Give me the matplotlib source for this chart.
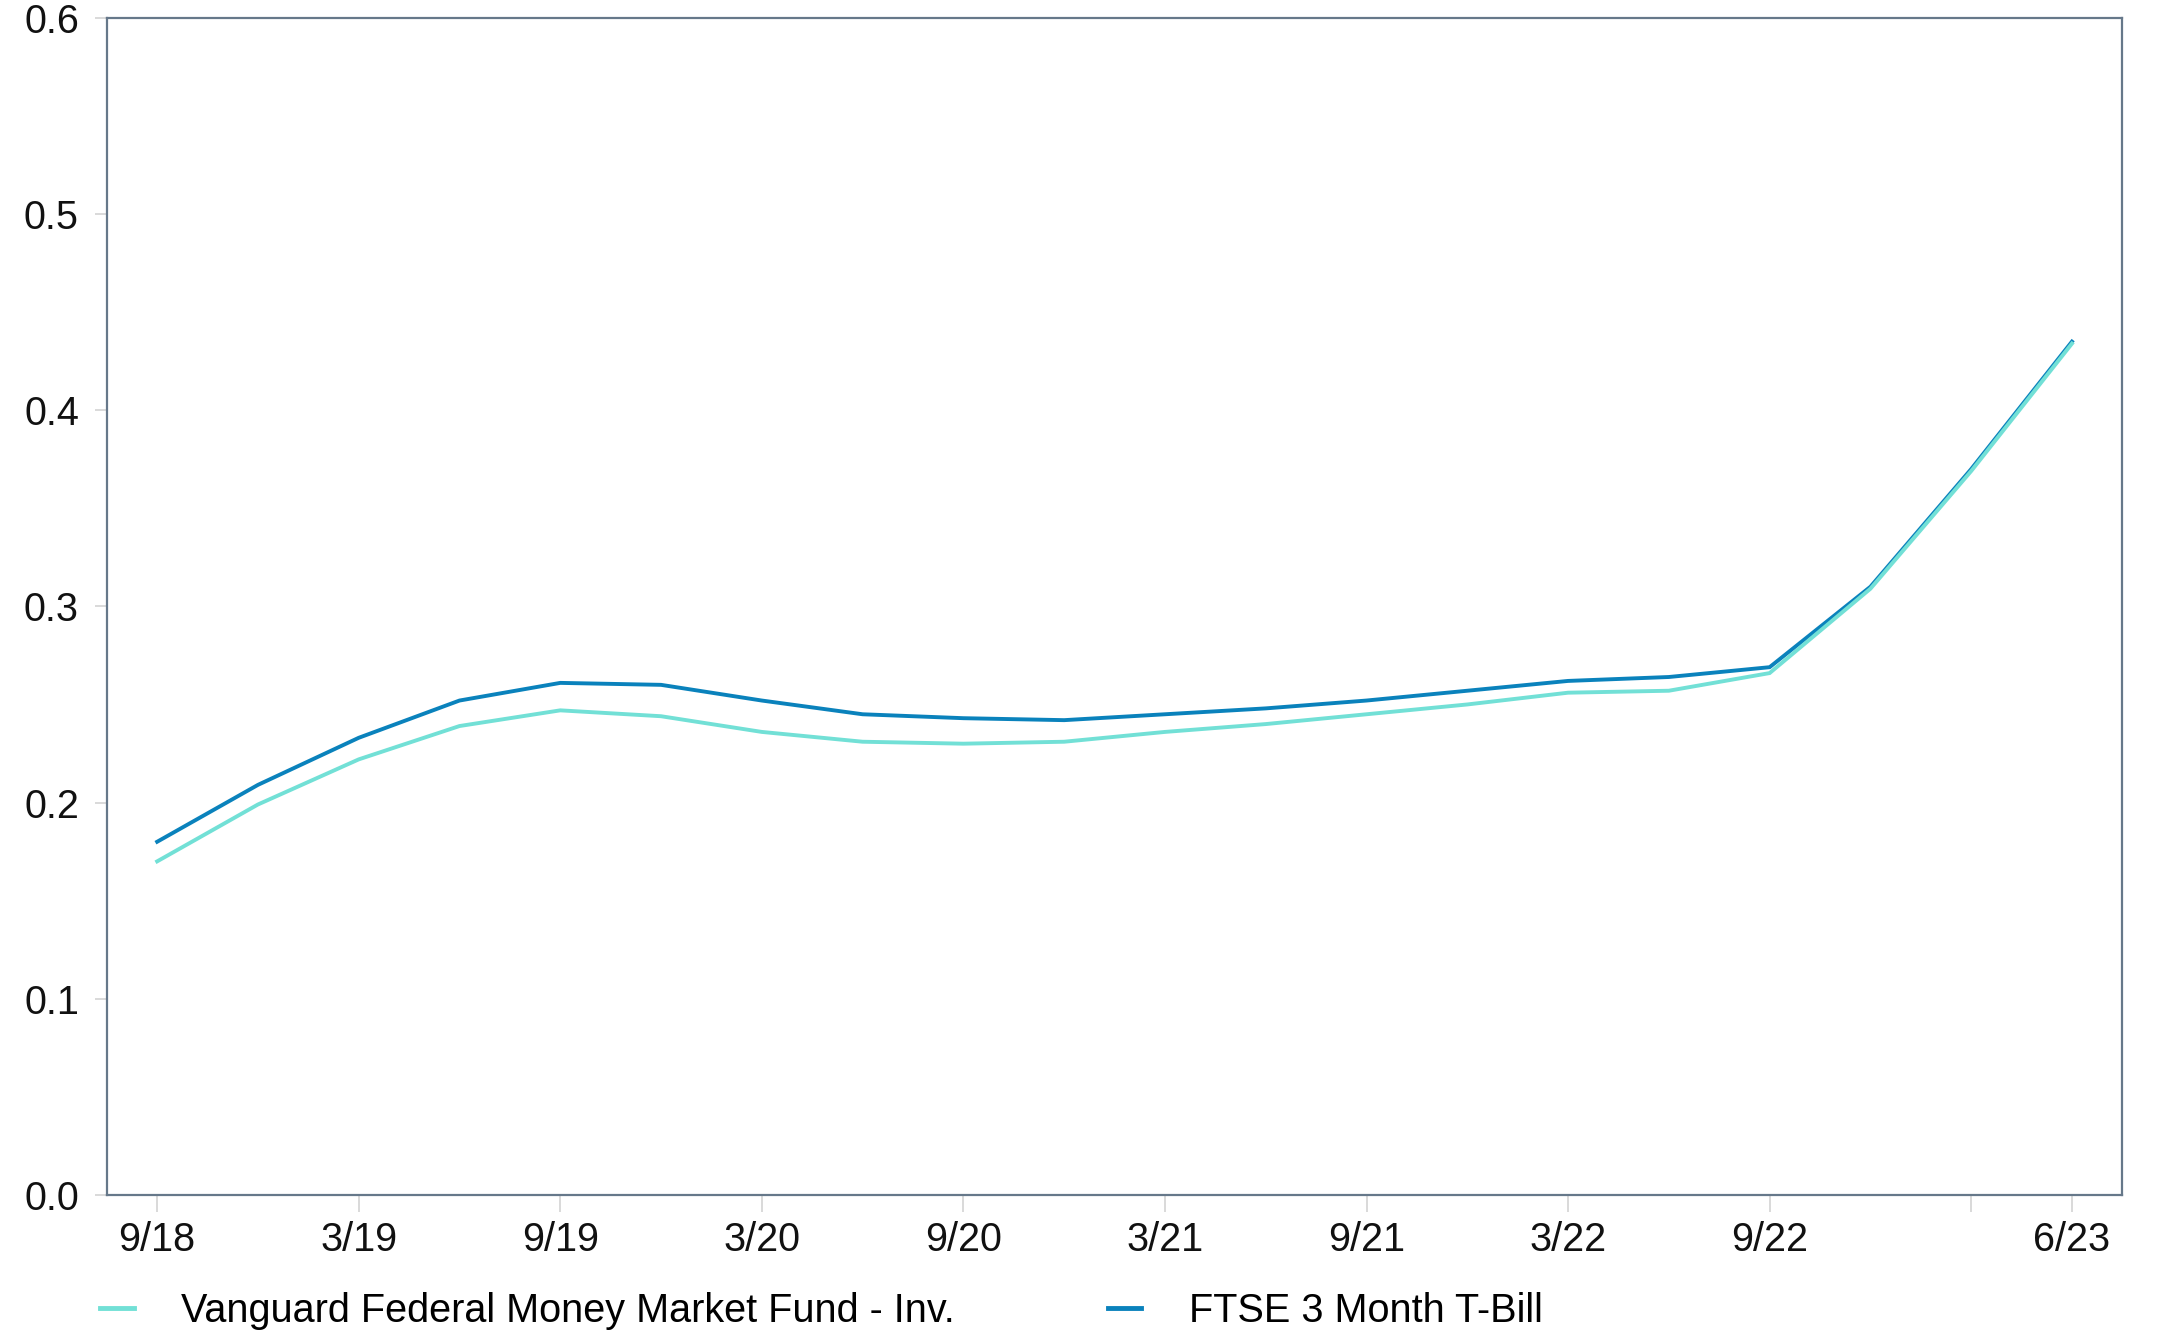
import matplotlib
matplotlib.use("Agg")
import matplotlib.pyplot as plt

plt.rcParams['font.family'] = ['Liberation Sans', 'DejaVu Sans']

quarters = ["9/18", "12/18", "3/19", "6/19", "9/19", "12/19", "3/20", "6/20", "9/20", "12/20",
            "3/21", "6/21", "9/21", "12/21", "3/22", "6/22", "9/22", "12/22", "3/23", "6/23"]
vanguard = [0.170, 0.199, 0.222, 0.239, 0.247, 0.244, 0.236, 0.231, 0.230, 0.231,
            0.236, 0.240, 0.245, 0.250, 0.256, 0.257, 0.266, 0.309, 0.369, 0.434]
ftse = [0.180, 0.209, 0.233, 0.252, 0.261, 0.260, 0.252, 0.245, 0.243, 0.242,
        0.245, 0.248, 0.252, 0.257, 0.262, 0.264, 0.269, 0.310, 0.370, 0.435]
tick_labels = ["9/18", "3/19", "9/19", "3/20", "9/20", "3/21", "9/21", "3/22", "9/22", "", "6/23"]
series_names = ["Vanguard Federal Money Market Fund - Inv.", "FTSE 3 Month T-Bill"]

fig = plt.figure(figsize=(21.79, 13.32), dpi=100)
ax = fig.add_axes([0.049, 0.103, 0.925, 0.8835])

x = list(range(len(quarters)))
c_van = "#72E0D6"
c_ftse = "#0A82BC"
ax.plot(x, ftse, color=c_ftse, lw=2.8, label=series_names[1], solid_joinstyle='miter', zorder=2)
ax.plot(x, vanguard, color=c_van, lw=2.8, label=series_names[0], solid_joinstyle='miter', zorder=3)

ax.set_xlim(-0.5, len(quarters) - 0.5)
ax.set_ylim(0, 0.6)
ax.set_yticks([0.0, 0.1, 0.2, 0.3, 0.4, 0.5, 0.6])
ax.set_yticklabels(["0.0", "0.1", "0.2", "0.3", "0.4", "0.5", "0.6"])
ticks_idx = [quarters.index(q) for q in ["9/18", "3/19", "9/19", "3/20", "9/20", "3/21", "9/21", "3/22", "9/22", "3/23", "6/23"]]
ax.set_xticks(ticks_idx)
ax.set_xticklabels(tick_labels)

for s in ax.spines.values():
    s.set_color("#66788A")
    s.set_linewidth(1.6)

ax.tick_params(axis='both', labelsize=28.5, colors="#D9D9D9", labelcolor="#111111")
ax.tick_params(axis='y', length=9, width=1.4, pad=11)
ax.tick_params(axis='x', length=12, width=1.4, pad=7)

handles, labels = ax.get_legend_handles_labels()
order = [1, 0]
leg = fig.legend([handles[i] for i in order], [labels[i] for i in order],
                 loc='center left', bbox_to_anchor=(0.046, 0.016), ncol=2, frameon=False,
                 fontsize=28.5, handlelength=0.85, handletextpad=1.2, columnspacing=3.85,
                 borderpad=0, borderaxespad=0)
for h in leg.get_lines():
    h.set_linewidth(3.5)

fig.savefig("out.png", dpi=100)
